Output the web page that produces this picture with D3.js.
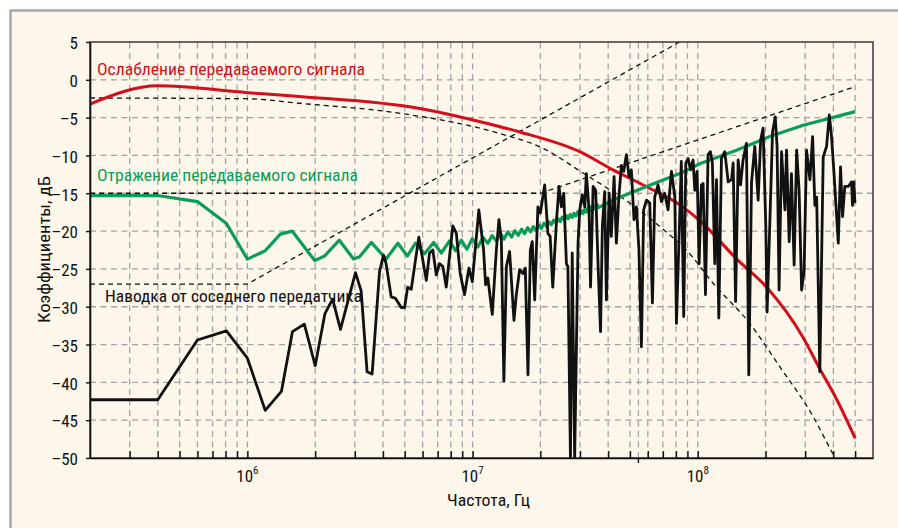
<!DOCTYPE html>
<html>
<head>
<meta charset="utf-8">
<script src="https://cdn.jsdelivr.net/npm/d3@7"></script>
<style>
html, body { margin: 0; padding: 0; background: #fff; }
svg { display: block; }
text { font-family: "Liberation Sans Narrow", "Arial Narrow", "Roboto Condensed", "Liberation Sans", sans-serif; }
</style>
</head>
<body>
<svg id="chart" width="898" height="528"></svg>
<script>
// frequencies in MHz, levels in dB
const freqDomain = [0.2, 600];
const dbDomain = [-50, 5];
const dbTicks = [5, 0, -5, -10, -15, -20, -25, -30, -35, -40, -45, -50];
const decadeTicks = [1, 10, 100];
const markerFreq = 54.5;

const labels = {
  attenuation: "Ослабление передаваемого сигнала",
  reflection: "Отражение передаваемого сигнала",
  crosstalk: "Наводка от соседнего передатчика",
  xAxis: "Частота, Гц",
  yAxis: "Коэффициенты, дБ"
};

const attenuation = [
  [0.2, -3.2], [0.4, -0.8], [1, -1.7], [1.7, -2.2], [6, -3.85], [10.7, -5.5], [16.2, -6.9],
  [29.9, -9.5], [42, -11.9], [59, -14.1], [83, -16.5], [102, -18.6], [149, -23.7], [202, -27.4],
  [294, -34.1], [348, -38.2], [413, -42.2], [500, -47.4]
];

const lowpassAsymptote = [
  [0.2, -2.4], [1, -2.5], [1.7, -3.1], [4.7, -4.4], [13.2, -7.1], [20, -8.9], [32, -12.6],
  [51, -16.5], [73, -20.2], [89, -22.5], [117, -26.9], [170, -32.2], [231, -37.9], [325, -44.5],
  [386, -48.7], [407, -50]
];

const reflectionAsymptote = [[0.2, -15], [20, -15], [500, -0.9]];
const crosstalkAsymptote = [[0.2, -27], [1, -27], [83, 5]];

const reflection = [
  [0.2, -15.3], [0.4, -15.3], [0.6, -16.1], [0.807, -19.0], [1.0, -23.7], [1.2, -22.6], [1.4, -20.4],
  [1.58, -20.0], [1.79, -22.1], [1.99, -23.9], [2.2, -23.3], [2.56, -21.2], [2.96, -23.7], [3.15, -23.4],
  [3.55, -21.5], [4.13, -23.7], [4.66, -21.6], [5.13, -23.3], [5.58, -21.6], [6.12, -23.0], [6.71, -21.5],
  [7.26, -22.9], [7.9, -21.3], [8.4, -22.6], [8.91, -21.2], [9.43, -22.4], [9.97, -21.0], [10.56, -22.1],
  [11.11, -20.8], [11.69, -21.6], [12.2, -20.6], [12.75, -21.3], [13.3, -20.3], [13.8, -21.05],
  [14.35, -20.1], [14.9, -20.8], [15.4, -19.95], [15.95, -20.55], [16.5, -19.75], [17.0, -20.35],
  [17.55, -19.55], [18.1, -20.1], [18.6, -19.4], [19.15, -19.9], [19.7, -19.2], [20.2, -19.65],
  [20.75, -18.95], [21.3, -19.4], [21.8, -18.75], [22.35, -19.15], [22.9, -18.55], [23.4, -18.95],
  [23.95, -18.35], [24.5, -18.75], [25.0, -18.15], [25.55, -18.55], [26.1, -17.95], [26.6, -18.35],
  [27.15, -17.8], [27.7, -18.2], [28.2, -17.65], [28.75, -18.0], [29.3, -17.45], [29.8, -17.85],
  [30.35, -17.3], [30.9, -17.7], [31.4, -17.15], [31.95, -17.5], [32.5, -16.95], [33.0, -17.35],
  [33.55, -16.8], [34.1, -17.2], [34.6, -16.65], [35.15, -17.05], [35.7, -16.5], [36.2, -16.9],
  [42, -15.9], [59.2, -14.1], [83.2, -12.4], [102, -11.1], [148.6, -9.3], [208.9, -7.5],
  [293.8, -6.0], [500, -4.2]
];

const crosstalk = [
  [0.2, -42.3], [0.4, -42.3], [0.6, -34.4], [0.807, -33.2], [1.0, -36.8], [1.2, -43.7], [1.416, -41.2],
  [1.585, -33.3], [1.79, -32.3], [2.0, -37.8], [2.21, -30.9], [2.39, -29.0], [2.59, -33.0], [3.02, -25.5],
  [3.2, -27.9], [3.4, -38.6], [3.58, -38.9], [3.86, -25.4], [4.02, -23.2], [4.13, -24.3], [4.35, -28.7],
  [4.55, -28.9], [4.82, -30.1], [4.99, -30.1], [5.15, -27.4], [5.34, -27.7], [5.77, -20.8], [6.23, -26.5],
  [6.44, -22.9], [6.66, -22.5], [6.9, -25.8], [7.13, -24.3], [7.38, -24.7], [7.64, -27.4], [8.17, -19.3],
  [8.47, -20.3], [8.81, -25.6], [9.21, -28.4], [9.63, -24.9], [9.97, -26.7], [10.66, -17.2], [11.19, -22.5],
  [11.42, -27.1], [11.69, -26.2], [12.23, -31.0], [12.75, -22.5], [13.09, -18.5], [13.42, -21.2],
  [13.77, -39.8], [14.13, -24.7], [14.6, -22.7], [15.27, -31.8], [15.64, -28.4], [16.18, -25.1],
  [16.75, -25.6], [17.14, -24.9], [17.62, -39.0], [18.05, -22.5], [18.41, -21.4], [18.87, -29.1],
  [19.5, -16.8], [20.0, -17.6], [20.9, -13.9], [21.6, -20.3], [22.1, -20.7], [22.7, -27.4], [23.6, -18.5],
  [24.2, -14.1], [24.8, -16.8], [25.4, -15.0], [26.1, -24.3], [26.5, -24.7], [27.2, -50], [27.7, -22.9],
  [28.4, -50], [29.4, -21.6], [29.9, -17.2], [30.7, -15.2], [31.5, -16.8], [32.0, -12.4], [32.9, -17.2],
  [33.4, -27.4], [34.3, -14.1], [35.2, -14.6], [36.1, -24.7], [37.0, -33.3], [37.7, -19.4], [38.6, -14.8],
  [39.3, -29.1], [40.4, -15.0], [41.3, -20.7], [42.5, -12.8], [43.5, -21.6], [44.7, -15.2], [45.8, -11.3],
  [46.9, -12.1], [48.2, -9.9], [49.5, -12.8], [50.7, -11.9], [52.1, -18.5], [53.4, -16.8], [54.8, -22.5],
  [56.2, -35.3], [57.5, -17.2], [59.2, -15.9], [61.2, -16.3], [62.9, -29.5], [64.4, -15.5], [66.6, -13.9],
  [69.0, -16.1], [71.3, -15.0], [73.8, -17.2], [76.4, -12.1], [79.1, -15.5], [80.4, -32.2], [83.0, -18.8],
  [84.5, -10.8], [86.6, -31.3], [88.5, -11.0], [90.6, -10.4], [92.9, -11.9], [95.3, -10.6], [97.0, -14.6],
  [99.3, -12.1], [101.4, -24.3], [103.8, -13.9], [105.6, -13.7], [108.2, -28.4], [111.1, -9.9],
  [113.8, -9.5], [116.1, -11.0], [119.0, -24.3], [121.1, -13.2], [124.0, -31.5], [127.4, -10.4],
  [131.8, -9.5], [136.5, -13.5], [141.3, -13.2], [143.6, -11.0], [147.2, -29.3], [151.1, -10.6],
  [154.9, -13.9], [158.9, -10.6], [164.5, -8.4], [168.5, -39.0], [173.3, -13.5], [179.1, -8.8],
  [185.4, -15.9], [190.1, -8.0], [195.0, -6.4], [200.5, -19.4], [203.2, -30.7], [208.9, -19.0],
  [214.8, -6.9], [220.8, -4.9], [225.0, -8.8], [229.7, -27.8], [235.5, -9.5], [243.8, -17.2],
  [247.8, -9.3], [254.7, -21.4], [260.6, -12.4], [267.9, -24.5], [274.8, -9.3], [281.8, -14.6],
  [289.1, -27.8], [296.5, -25.4], [304.1, -9.3], [314.8, -13.2], [323.6, -7.5], [331.1, -16.6],
  [337.3, -15.5], [348.3, -38.6], [360.6, -10.2], [373.3, -8.8], [383.7, -4.65], [392.7, -7.5],
  [401.8, -11.9], [420.7, -21.6], [430.5, -11.5], [439.5, -18.1], [449.8, -14.1], [465.6, -14.1],
  [482.0, -13.5], [486.6, -16.6], [493.3, -13.5], [498.9, -16.3]
];

const plot = { left: 90, right: 873, top: 42, bottom: 458 };
const svg = d3.select("#chart");

svg.append("rect")
  .attr("x", 10.5).attr("y", 10.5)
  .attr("width", 900).attr("height", 530)
  .attr("fill", "#fdf6ea")
  .attr("stroke", "#a8a8a8")
  .attr("stroke-width", 2.5);

const x = d3.scaleLog().domain(freqDomain).range([plot.left, plot.right]);
const y = d3.scaleLinear().domain(dbDomain).range([plot.bottom, plot.top]);

svg.append("clipPath").attr("id", "plotClip")
  .append("rect")
  .attr("x", plot.left).attr("y", plot.top)
  .attr("width", plot.right - plot.left).attr("height", plot.bottom - plot.top);

// grid
const minorTicks = x.ticks().filter(d => d > freqDomain[0] && d < freqDomain[1]);
const grid = svg.append("g")
  .attr("stroke", "#a4a4a4")
  .attr("stroke-width", 1.3)
  .attr("stroke-dasharray", "6,4.5");

grid.selectAll("line.v")
  .data(minorTicks.concat([markerFreq]))
  .join("line")
  .attr("class", "v")
  .attr("x1", d => x(d)).attr("x2", d => x(d))
  .attr("y1", plot.bottom).attr("y2", plot.top);

grid.selectAll("line.h")
  .data(dbTicks.filter(d => d > dbDomain[0] && d < dbDomain[1]))
  .join("line")
  .attr("class", "h")
  .attr("x1", plot.left).attr("x2", plot.right)
  .attr("y1", d => y(d)).attr("y2", d => y(d));

const line = d3.line().x(d => x(d[0])).y(d => y(d[1]));
const smooth = d3.line().x(d => x(d[0])).y(d => y(d[1])).curve(d3.curveMonotoneX);

const marks = svg.append("g").attr("clip-path", "url(#plotClip)").attr("fill", "none");

[lowpassAsymptote, reflectionAsymptote, crosstalkAsymptote].forEach((series, i) => {
  marks.append("path")
    .attr("d", i === 0 ? smooth(series) : line(series))
    .attr("stroke", "#111")
    .attr("stroke-width", 1.3)
    .attr("stroke-dasharray", "5,4");
});

marks.append("path")
  .attr("d", smooth(attenuation))
  .attr("stroke", "#d2101c")
  .attr("stroke-width", 3);

marks.append("path")
  .attr("d", line(reflection))
  .attr("stroke", "#0b9d58")
  .attr("stroke-width", 3.2)
  .attr("stroke-linejoin", "round");

marks.append("path")
  .attr("d", line(crosstalk))
  .attr("stroke", "#111")
  .attr("stroke-width", 2.8)
  .attr("stroke-linejoin", "round");

// frame and axes
svg.append("rect")
  .attr("x", plot.left).attr("y", plot.top)
  .attr("width", plot.right - plot.left).attr("height", plot.bottom - plot.top)
  .attr("fill", "none")
  .attr("stroke", "#2a2a2a")
  .attr("stroke-width", 1.4);

const minus = d => d < 0 ? "\u2013" + Math.abs(d) : String(d);

const yAxis = svg.append("g")
  .attr("transform", `translate(${plot.left},0)`)
  .call(d3.axisLeft(y).tickValues(dbTicks).tickSizeInner(4).tickSizeOuter(0).tickPadding(8).tickFormat(minus));

const xAxis = svg.append("g")
  .attr("transform", `translate(0,${plot.bottom})`)
  .call(d3.axisBottom(x).tickValues(minorTicks).tickSizeInner(-7).tickSizeOuter(0).tickFormat(() => ""));

[yAxis, xAxis].forEach(g => {
  g.attr("font-family", null).attr("font-size", null);
  g.select(".domain").attr("stroke", "#111").attr("stroke-width", 1.6);
  g.selectAll(".tick line").attr("stroke", "#111").attr("stroke-width", 1.4);
});

yAxis.selectAll(".tick text")
  .attr("font-size", 17)
  .attr("fill", "#111")
  .attr("dy", "0.4em");

svg.append("line")
  .attr("x1", x(markerFreq)).attr("x2", x(markerFreq))
  .attr("y1", plot.bottom).attr("y2", plot.bottom + 5)
  .attr("stroke", "#111").attr("stroke-width", 1.4);

const decadeLabels = svg.append("g")
  .selectAll("text")
  .data(decadeTicks)
  .join("text")
  .attr("x", d => x(d))
  .attr("y", 482)
  .attr("text-anchor", "middle")
  .attr("font-size", 17)
  .attr("fill", "#111");
decadeLabels.append("tspan").text("10");
decadeLabels.append("tspan")
  .attr("font-size", 11)
  .attr("dy", -8)
  .text(d => Math.round(Math.log10(d)) + 6);

// titles
function label(text, px, py, color, width) {
  return svg.append("text")
    .attr("x", px).attr("y", py)
    .attr("font-size", 17)
    .attr("fill", color)
    .attr("textLength", width)
    .attr("lengthAdjust", "spacingAndGlyphs")
    .text(text);
}

label(labels.attenuation, 97, 75, "#d2101c", 268);
label(labels.reflection, 97, 180.5, "#0b9d58", 261);
label(labels.crosstalk, 105, 301.5, "#111", 257);
label(labels.xAxis, 447, 506, "#111", 83);
label(labels.yAxis, 0, 0, "#111", 147)
  .attr("transform", "translate(50,323) rotate(-90)");
</script>
</body>
</html>
